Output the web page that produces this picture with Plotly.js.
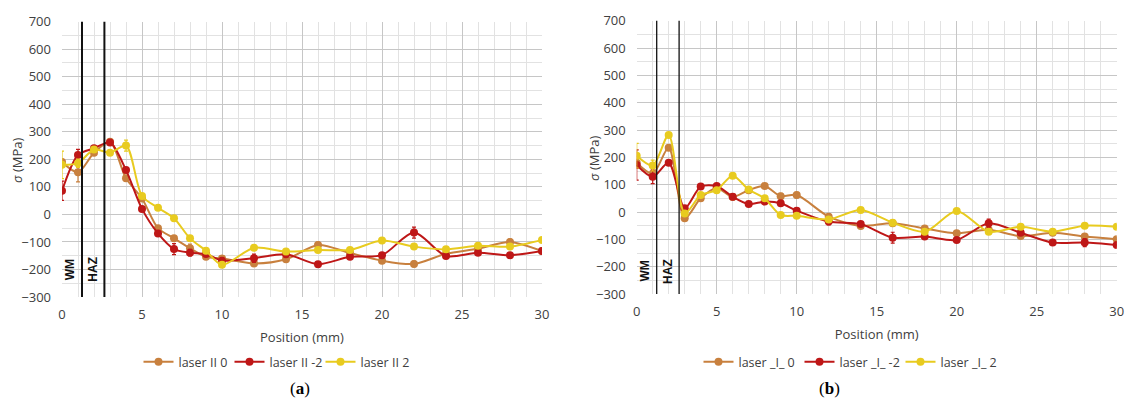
<!DOCTYPE html>
<html>
<head>
<meta charset="utf-8">
<script src="https://cdn.plot.ly/plotly-3.0.1.min.js"></script>
<style>html,body{margin:0;padding:0;background:#fff;}#chart{width:1126px;height:401px;}</style>
</head>
<body>
<div id="chart"></div>
<script>
// Positions (mm)
var positions = [0,1,2,3,4,5,6,7,8,9,10,12,14,16,18,20,22,24,26,28,30];

// Panel (a)
var namesA = ["laser II 0", "laser II -2", "laser II 2"];
var a_0  = [190,153,224,264,131,58,-50,-87,-123,-154,-160,-178,-163,-111,-140,-168,-180,-143,-125,-100,-133];
var a_m2 = [86,216,240,261,161,20,-69,-126,-139,-144,-168,-159,-145,-181,-154,-148,-66,-151,-139,-148,-133];
var a_2  = [180,186,236,224,250,67,24,-14,-87,-132,-183,-121,-135,-129,-129,-95,-117,-127,-114,-117,-93];
var errA_0  = [10,35,10,8,8,8,8,8,15,8,10,8,8,10,8,8,10,8,8,10,8];
var errA_m2 = [35,20,8,10,8,8,8,20,12,8,10,15,8,10,8,8,20,8,8,8,8];
var errA_2  = [50,15,8,8,20,8,8,8,8,8,8,10,8,8,8,8,8,8,8,8,8];

// Panel (b)
var namesB = ["laser _I_ 0", "laser _I_ -2", "laser _I_ 2"];
var b_0  = [180,140,235,-23,50,88,55,80,95,58,62,-17,-51,-41,-60,-78,-65,-88,-76,-90,-100];
var b_m2 = [172,129,180,14,93,95,56,29,38,32,5,-35,-44,-94,-90,-102,-41,-76,-112,-112,-121];
var b_2  = [206,170,282,-5,62,80,133,82,50,-11,-14,-27,7,-39,-72,4,-72,-54,-72,-50,-54];
var errB_0  = [10,10,8,8,8,8,8,8,8,10,10,10,8,8,8,8,8,8,8,8,8];
var errB_m2 = [55,25,8,8,8,8,8,8,8,8,8,12,8,20,10,8,15,8,8,15,8];
var errB_2  = [45,20,8,8,8,8,8,8,8,8,8,8,8,8,8,8,8,8,8,8,8];

// Zone boundaries (mm) and labels
var zoneLines = [1.25, 2.65];
var zoneLabels = ["WM", "HAZ"];
var zoneLabelX = [0.55, 1.95];

var yTitle = "<i>σ</i> (MPa)";
var xTitle = "Position (mm)";

var colors = ["#C8803E", "#BE1717", "#E8CB1F"];

function mk(y, err, name, color, xa, ya, legend){
  return {
    x: positions, y: y, name: name, type: "scatter", mode: "lines+markers",
    xaxis: xa, yaxis: ya, legend: legend,
    line: {color: color, width: 2, shape: "spline", smoothing: 0.8},
    marker: {color: color, size: 8, symbol: "circle"},
    error_y: {type: "data", array: err, visible: true, color: color, thickness: 1.2, width: 2}
  };
}

var data = [
  mk(a_0, errA_0, namesA[0], colors[0], "x", "y", "legend"),
  mk(a_m2, errA_m2, namesA[1], colors[1], "x", "y", "legend"),
  mk(a_2, errA_2, namesA[2], colors[2], "x", "y", "legend"),
  mk(b_0, errB_0, namesB[0], colors[0], "x2", "y2", "legend2"),
  mk(b_m2, errB_m2, namesB[1], colors[1], "x2", "y2", "legend2"),
  mk(b_2, errB_2, namesB[2], colors[2], "x2", "y2", "legend2")
];

var tickFont = {family: "Open Sans, Liberation Sans, sans-serif", size: 13, color: "#404040"};

function xax(domain, anchor){
  return {
    domain: domain, anchor: anchor, range: [0, 30], dtick: 5, tick0: 0,
    showgrid: true, gridcolor: "#c6c6c6", gridwidth: 1,
    minor: {dtick: 1, showgrid: true, gridcolor: "#e2e2e2", gridwidth: 1},
    zeroline: false, showline: false, ticks: "", tickfont: tickFont,
    ticklabelstandoff: 8,
    title: {text: xTitle, font: tickFont, standoff: 10}
  };
}
function yax(domain, anchor){
  return {
    domain: domain, anchor: anchor, range: [-300, 700], dtick: 100,
    showgrid: true, gridcolor: "#c6c6c6", gridwidth: 1,
    minor: {dtick: 50, showgrid: true, gridcolor: "#e2e2e2", gridwidth: 1},
    zeroline: false, showline: false, ticks: "", tickfont: tickFont,
    ticklabelstandoff: 10
  };
}

var shapes = [];
var annotations = [];
[["x","y",2],["x2","y2",1.3]].forEach(function(p){
  zoneLines.forEach(function(z){
    shapes.push({type: "line", xref: p[0], yref: p[1] + " domain", x0: z, x1: z, y0: 0, y1: 1,
      line: {color: "#111", width: p[2]}});
  });
  zoneLabels.forEach(function(t, i){
    annotations.push({xref: p[0], yref: p[1], x: zoneLabelX[i], y: p[0] === "x" ? -200 : -216,
      text: "<b>" + t + "</b>", showarrow: false, textangle: -90,
      font: {family: "Liberation Sans, Arial, sans-serif", size: 12, color: "#111"}});
  });
});
// y-axis titles placed close to tick labels as in the reference
annotations.push({xref: "paper", yref: "paper", x: 17/1126, y: (401-160)/401, xanchor: "center", yanchor: "middle",
  text: yTitle, textangle: -90, showarrow: false, font: {family: tickFont.family, size: 13, color: "#404040"}});
annotations.push({xref: "paper", yref: "paper", x: 594/1126, y: (401-158)/401, xanchor: "center", yanchor: "middle",
  text: yTitle, textangle: -90, showarrow: false, font: {family: tickFont.family, size: 13, color: "#404040"}});
annotations.push({xref: "paper", yref: "paper", x: 300/1126, y: (401-388)/401, xanchor: "center", yanchor: "middle",
  text: "(<b>a</b>)", showarrow: false, font: {family: "Liberation Serif, serif", size: 17, color: "#000"}});
annotations.push({xref: "paper", yref: "paper", x: 829/1126, y: (401-388)/401, xanchor: "center", yanchor: "middle",
  text: "(<b>b</b>)", showarrow: false, font: {family: "Liberation Serif, serif", size: 17, color: "#000"}});

var legFont = {family: "Open Sans, Liberation Sans, sans-serif", size: 12.5, color: "#404040"};

var layout = {
  width: 1126, height: 401,
  margin: {l: 0, r: 0, t: 0, b: 0},
  paper_bgcolor: "#fff", plot_bgcolor: "#fff",
  showlegend: true,
  xaxis: xax([62/1126, 542/1126], "y"),
  yaxis: yax([(401-297)/401, (401-21.7)/401], "x"),
  xaxis2: xax([636.7/1126, 1116.7/1126], "y2"),
  yaxis2: yax([(401-294)/401, (401-20.7)/401], "x2"),
  legend: {orientation: "h", x: 275/1126, xanchor: "center", y: (401-362)/401, yanchor: "middle",
    font: legFont, itemwidth: 30, entrywidth: 46, bgcolor: "rgba(0,0,0,0)"},
  legend2: {orientation: "h", x: 850/1126, xanchor: "center", y: (401-362)/401, yanchor: "middle",
    font: legFont, itemwidth: 30, entrywidth: 56, bgcolor: "rgba(0,0,0,0)"},
  shapes: shapes,
  annotations: annotations
};

Plotly.newPlot("chart", data, layout, {displayModeBar: false, staticPlot: true});
</script>
</body>
</html>
